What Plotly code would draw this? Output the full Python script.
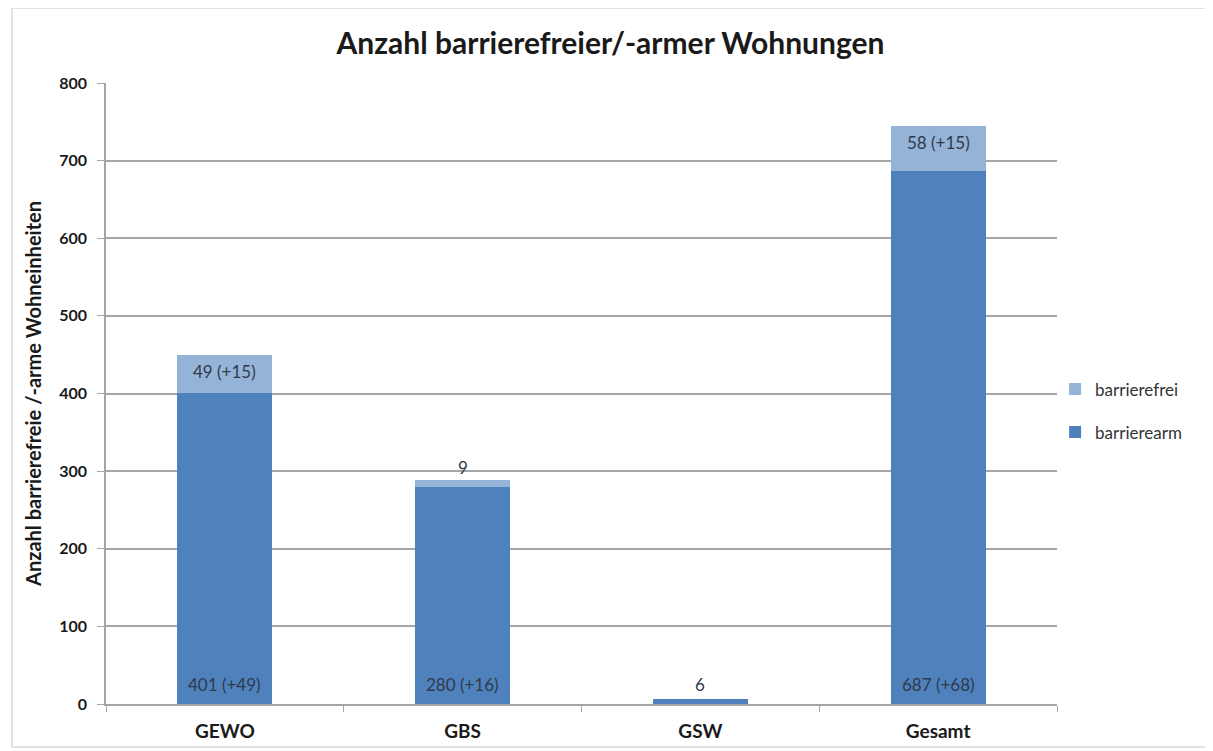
import plotly.graph_objects as go

categories = ["GEWO", "GBS", "GSW", "Gesamt"]
barrierearm = [401, 280, 6, 687]
barrierefrei = [49, 9, 0, 58]
labels_arm = ["401 (+49)", "280 (+16)", "6", "687 (+68)"]
labels_frei = ["49 (+15)", "9", "", "58 (+15)"]
y_ticks = [0, 100, 200, 300, 400, 500, 600, 700, 800]

C_ARM = "#4F81BD"
C_FREI = "#95B3D7"
FONT = "Lato, 'Open Sans', sans-serif"
LBL = "#2f3a4a"

W, H = 1205, 743
ML, MR, MT, MB = 98, 156, 75, 47
PW, PH = W - ML - MR, H - MT - MB

fig = go.Figure()
fig.add_trace(go.Bar(x=categories, y=barrierearm, name="barrierearm", legendgroup="a", legendrank=2,
                     marker=dict(color=C_ARM, line=dict(width=0)), width=0.4))
fig.add_trace(go.Bar(x=categories, y=barrierefrei, name="barrierefrei", legendgroup="b", legendrank=1,
                     marker=dict(color=C_FREI, line=dict(width=0)), width=0.4))

annotations = []
for c, a, f, la, lf in zip(categories, barrierearm, barrierefrei, labels_arm, labels_frei):
    small_arm = a < 30
    annotations.append(dict(x=c, y=a if small_arm else 0, text=la, showarrow=False,
                            yanchor="bottom", yshift=2 if small_arm else 7,
                            font=dict(family=FONT, size=17, color=LBL)))
    if lf:
        total = a + f
        small = f < 30
        annotations.append(dict(x=c, y=total, text=lf, showarrow=False,
                                yanchor="bottom" if small else "top",
                                yshift=0 if small else -4,
                                font=dict(family=FONT, size=17, color=LBL)))

fig.update_layout(
    barmode="stack",
    width=W, height=H,
    margin=dict(l=ML, r=MR, t=MT, b=MB),
    paper_bgcolor="white", plot_bgcolor="white",
    title=dict(text="<b>Anzahl barrierefreier/-armer Wohnungen</b>", xref="container", x=0.5,
               xanchor="center", y=1 - 35 / H, yanchor="middle",
               font=dict(family=FONT, size=30, color="#1a1a1a")),
    font=dict(family=FONT, color="#1a1a1a"),
    legend=dict(x=0.998, xanchor="left", y=0.472, yanchor="middle", traceorder="grouped",
                font=dict(family=FONT, size=17, color="#333333"), itemwidth=30,
                tracegroupgap=18, bgcolor="rgba(0,0,0,0)"),
    annotations=annotations,
    bargap=0.6,
)
fig.update_yaxes(range=[0, 800], tickvals=y_ticks, showgrid=True, gridcolor="#a6a6a6", gridwidth=1.5,
                 showline=True, linecolor="#a6a6a6", linewidth=1.5, ticks="outside", ticklen=7,
                 tickcolor="#a6a6a6", ticklabelstandoff=7, automargin=False,
                 tickfont=dict(family=FONT, size=16, color="#1a1a1a", weight="bold"),
                 title=dict(text="<b>Anzahl barrierefreie /-arme Wohneinheiten</b>",
                            font=dict(family=FONT, size=20, color="#1a1a1a"), standoff=12),
                 zeroline=False)
fig.update_xaxes(showline=True, linecolor="#a6a6a6", linewidth=1.5, ticks="outside", ticklen=6,
                 tickcolor="#a6a6a6", tickson="boundaries", ticklabelstandoff=9, automargin=False,
                 tickfont=dict(family=FONT, size=19, color="#1a1a1a", weight="bold"))

fig.add_shape(type="rect", xref="paper", yref="paper",
              x0=-(ML - 4) / PW, x1=1 + (MR - 4) / PW, y0=-(MB - 4) / PH, y1=1 + (MT - 0) / PH,
              line=dict(color="#d9d9d9", width=1.5), fillcolor="rgba(0,0,0,0)", layer="below")

fig.write_html("out.html")
